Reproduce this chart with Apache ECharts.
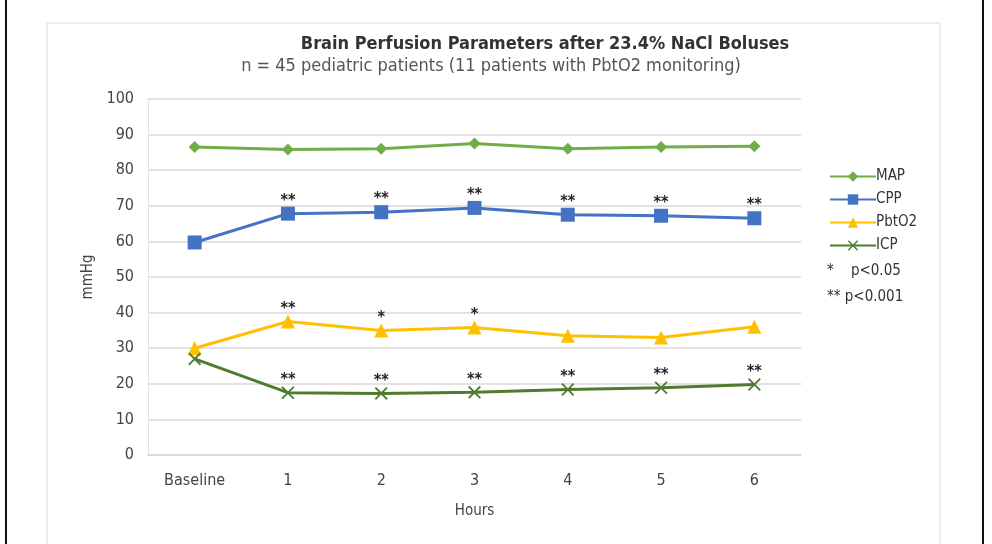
<!DOCTYPE html>
<html><head><meta charset="utf-8">
<script src="https://cdn.jsdelivr.net/npm/echarts@6/dist/echarts.min.js"></script>
<style>html,body{margin:0;padding:0;background:#fff}#c{width:992px;height:544px}</style>
</head><body><div id="c"></div>
<script>
const categories = ['Baseline','1','2','3','4','5','6'];
const mapValues = [86.5, 85.8, 86.0, 87.5, 86.0, 86.5, 86.7];
const cppValues = [59.7, 67.8, 68.2, 69.4, 67.5, 67.2, 66.5];
const pbto2Values = [30.0, 37.5, 35.0, 35.8, 33.5, 33.0, 36.0];
const icpValues = [27.0, 17.5, 17.3, 17.6, 18.4, 18.9, 19.8];
const cppStars = ['', '**', '**', '**', '**', '**', '**'];
const pbto2Stars = ['', '**', '*', '*', '', '', ''];
const icpStars = ['', '**', '**', '**', '**', '**', '**'];
const yTicks = [0, 100, 10];

const font = "'DejaVu Sans Condensed', 'Liberation Sans', Arial, sans-serif";
const crossPath = 'path://M0,1 L1,0 L5,4 L9,0 L10,1 L6,5 L10,9 L9,10 L5,6 L1,10 L0,9 L4,5 Z';

function starLabel(stars) {
  return {
    show: true, position: 'top', distance: -2,
    color: '#222', fontSize: 16, fontWeight: 'bold', fontFamily: font,
    formatter: p => stars[p.dataIndex]
  };
}

const chart = echarts.init(document.getElementById('c'));
chart.setOption({
  backgroundColor: '#fff',
  animation: false,
  title: [
    { text: 'Brain Perfusion Parameters after 23.4% NaCl Boluses', left: 540, top: 30, textAlign: 'center',
      textStyle: { fontSize: 18, fontWeight: 'bold', color: '#333', fontFamily: font } },
    { text: 'n = 45 pediatric patients (11 patients with PbtO2 monitoring)', left: 486, top: 52, textAlign: 'center',
      textStyle: { fontSize: 18, fontWeight: 'normal', color: '#555', fontFamily: font } }
  ],
  grid: { left: 148, right: 191, top: 99, bottom: 89 },
  legend: {
    orient: 'vertical', left: 824, top: 164, itemGap: 8, itemWidth: 46, itemHeight: 13,
    textStyle: { fontSize: 15, color: '#333', fontFamily: font, padding: [0,0,0,-5] },
    data: ['MAP','CPP','PbtO2','ICP']
  },
  xAxis: {
    type: 'category', data: categories, boundaryGap: true,
    name: 'Hours', nameLocation: 'middle', nameGap: 49,
    nameTextStyle: { fontSize: 15, color: '#444', fontFamily: font },
    axisLine: { lineStyle: { color: '#d9d9d9', width: 1.5 } },
    axisTick: { show: false },
    axisLabel: { fontSize: 16, color: '#444', fontFamily: font, margin: 18 }
  },
  yAxis: {
    type: 'value', min: yTicks[0], max: yTicks[1], interval: yTicks[2],
    name: 'mmHg', nameLocation: 'middle', nameGap: 52, nameRotate: 90,
    nameTextStyle: { fontSize: 15, color: '#444', fontFamily: font },
    axisLine: { show: true, lineStyle: { color: '#e3e3e3' } },
    axisTick: { show: false },
    axisLabel: { fontSize: 16, color: '#444', fontFamily: font, margin: 14 },
    splitLine: { lineStyle: { color: '#d9d9d9', width: 1.5 } }
  },
  graphic: [
    { type: 'rect', shape: { x: 47, y: 23, width: 893, height: 530 }, style: { fill: 'none', stroke: '#d9d9d9', lineWidth: 1 } },
    { type: 'rect', shape: { x: 6, y: -5, width: 977, height: 560 }, style: { fill: 'none', stroke: '#111', lineWidth: 2 } },
    { type: 'text', left: 827, top: 264, style: { text: '*    p<0.05', fontSize: 15, fill: '#333', fontFamily: font } },
    { type: 'text', left: 827, top: 290, style: { text: '** p<0.001', fontSize: 15, fill: '#333', fontFamily: font } }
  ],
  series: [
    { name: 'MAP', type: 'line', data: mapValues, symbol: 'diamond', symbolSize: 12,
      lineStyle: { color: '#70AD47', width: 3 }, itemStyle: { color: '#70AD47' } },
    { name: 'CPP', type: 'line', data: cppValues, symbol: 'rect', symbolSize: 14,
      lineStyle: { color: '#4472C4', width: 3 }, itemStyle: { color: '#4472C4' }, label: starLabel(cppStars) },
    { name: 'PbtO2', type: 'line', data: pbto2Values, symbol: 'triangle', symbolSize: 14,
      lineStyle: { color: '#FFC000', width: 3 }, itemStyle: { color: '#FFC000' }, label: starLabel(pbto2Stars) },
    { name: 'ICP', type: 'line', data: icpValues, symbol: crossPath, symbolSize: 13,
      lineStyle: { color: '#4F7B2E', width: 3 }, itemStyle: { color: '#4F7B2E' }, label: starLabel(icpStars) }
  ]
});
</script></body></html>
